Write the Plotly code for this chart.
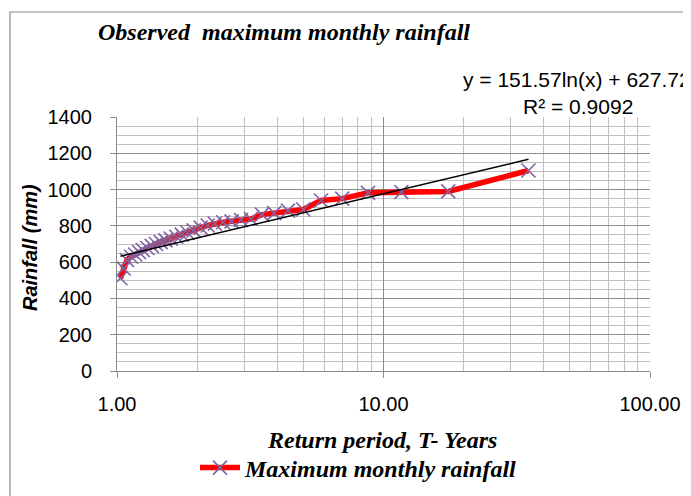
import numpy as np
import plotly.graph_objects as go

# Return period (years) and observed maximum monthly rainfall (mm)
return_period = [1.03, 1.06, 1.09, 1.13, 1.17, 1.21, 1.25, 1.30, 1.35, 1.40,
                 1.46, 1.52, 1.59, 1.67, 1.75, 1.84, 1.94, 2.06, 2.19, 2.33,
                 2.50, 2.69, 2.92, 3.18, 3.50, 3.89, 4.38, 5.00, 5.83, 7.00,
                 8.75, 11.67, 17.50, 35.00]
rainfall = [511, 565, 612, 630, 642, 655, 666, 678, 690, 700,
            710, 720, 730, 740, 752, 762, 775, 790, 802, 812,
            820, 825, 832, 838, 862, 870, 884, 890, 940, 950,
            982, 986, 990, 1105]

# logarithmic trendline coefficients (as shown on the chart)
trend_a = 151.57
trend_b = 627.72
eq_text = "y = 151.57ln(x) + 627.72"
r2_text = "R² = 0.9092"

x_ticks = [1, 10, 100]
x_tick_text = ["1.00", "10.00", "100.00"]
y_ticks = [0, 200, 400, 600, 800, 1000, 1200, 1400]

title_text = "Observed\u00a0 maximum monthly rainfall"
x_title = "Return period, T- Years"
y_title = "Rainfall (mm)"
series_name = "Maximum monthly rainfall"

trend_x = np.array(return_period, dtype=float)
trend_y = trend_a * np.log(trend_x) + trend_b

# page geometry (the page body adds an 8px offset)
OFF = 8
W, H = 691 - OFF, 496 - OFF
PL, PR, PT, PB = 117, 650, 117, 371          # plot area in page pixels
L, T = PL - OFF, PT - OFF
R, B = W - (PR - OFF), H - (PB - OFF)
pw, ph = PR - PL, PB - PT
def px(x):
    return (x - PL) / pw
def py(y):
    return (PB - y) / ph

fig = go.Figure()
fig.add_trace(go.Scatter(
    x=return_period, y=rainfall, mode="lines+markers", name=series_name,
    line=dict(color="#FF0000", width=5.5),
    marker=dict(symbol="x-thin", size=14, color="#8064A2",
                line=dict(color="#8064A2", width=1.6)),
))
fig.add_trace(go.Scatter(
    x=trend_x, y=trend_y, mode="lines", showlegend=False,
    line=dict(color="#000000", width=1.5), hoverinfo="skip",
))

grid_major = "#8C8C8C"
grid_minor = "#C0C0C0"
tick_font = dict(family="Liberation Sans, Arial, sans-serif", size=20, color="#000000")
serif_bi = dict(family="Liberation Serif, Times New Roman, serif", size=24,
                color="#000000", weight="bold", style="italic")

fig.update_layout(
    width=W, height=H,
    margin=dict(l=L, r=R, t=T, b=B, autoexpand=False),
    paper_bgcolor="white", plot_bgcolor="white",
    showlegend=True,
    legend=dict(orientation="h", x=px(359), xanchor="center",
                yref="container", y=1 - (468 - OFF) / H, yanchor="middle",
                font=serif_bi, bgcolor="rgba(0,0,0,0)", itemwidth=40),
    xaxis=dict(type="log", range=[0, 2], tickvals=x_ticks, ticktext=x_tick_text,
               automargin=False,
               showgrid=True, gridcolor=grid_major, gridwidth=1,
               ticks="outside", ticklen=6, tickcolor=grid_major,
               showline=True, linecolor=grid_major, linewidth=1,
               tickfont=tick_font, ticklabelstandoff=9, zeroline=False,
               minor=dict(dtick="D1", showgrid=True, gridcolor=grid_minor, gridwidth=1, ticks="")),
    yaxis=dict(range=[0, 1400], tickvals=y_ticks, automargin=False,
               showgrid=True, gridcolor=grid_major, gridwidth=1,
               ticks="outside", ticklen=6, tickcolor=grid_major,
               showline=True, linecolor=grid_major, linewidth=1,
               tickfont=tick_font, ticklabelstandoff=14, zeroline=False,
               minor=dict(dtick=50, showgrid=True, gridcolor=grid_minor, gridwidth=1, ticks="")),
    shapes=[dict(type="rect", xref="paper", yref="paper",
                 x0=px(10), x1=px(720), y0=py(520), y1=py(12),
                 line=dict(color="#8C8C8C", width=1.2), fillcolor="rgba(0,0,0,0)",
                 layer="below")],
    annotations=[
        dict(text=title_text, xref="paper", yref="paper", x=px(96), y=py(32),
             xanchor="left", yanchor="middle", showarrow=False, font=serif_bi),
        dict(text=x_title, xref="paper", yref="paper", x=px(382), y=py(440),
             xanchor="center", yanchor="middle", showarrow=False, font=serif_bi),
        dict(text=y_title, xref="paper", yref="paper", x=px(30), y=py(248),
             xanchor="center", yanchor="middle", textangle=-90, showarrow=False,
             font=dict(family="Liberation Sans, Arial, sans-serif", size=20,
                       color="#000000", weight="bold", style="italic")),
        dict(text=eq_text, xref="paper", yref="paper", x=px(461), y=py(79),
             xanchor="left", yanchor="middle", showarrow=False,
             font=dict(family="Liberation Sans, Arial, sans-serif", size=21, color="#000000")),
        dict(text=r2_text, xref="paper", yref="paper", x=px(578), y=py(106),
             xanchor="center", yanchor="middle", showarrow=False,
             font=dict(family="Liberation Sans, Arial, sans-serif", size=21, color="#000000")),
    ],
)

fig.write_html("out.html")
